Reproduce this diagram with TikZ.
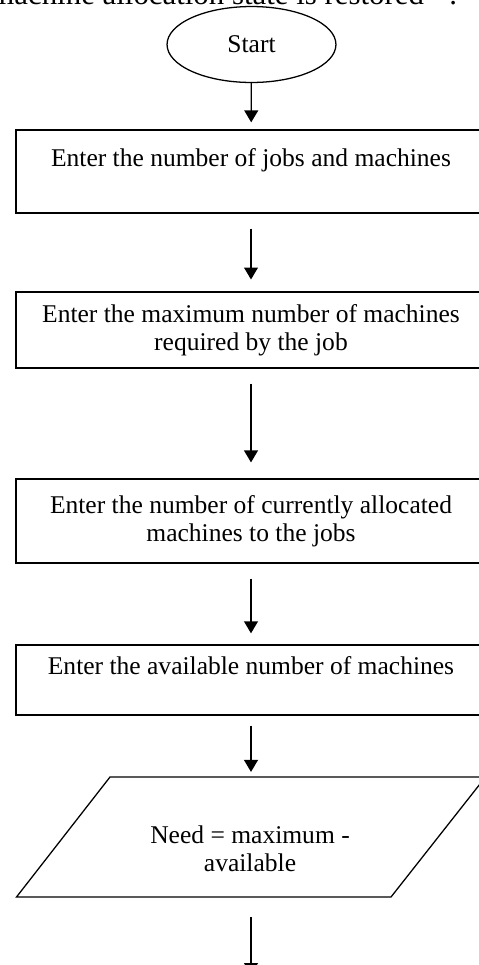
\documentclass[tikz,border=0pt]{standalone}
\usepackage{fontspec}
\setmainfont{Liberation Serif}
\usepackage{xcolor}
\usepackage{tikz}
\usetikzlibrary{arrows.meta,shapes.geometric}
\definecolor{paper}{HTML}{FFFFFF}
\definecolor{ink}{HTML}{000000}
\tikzset{
  line/.style={draw=ink, line width=0.6pt},
  term/.style={line, ellipse, inner sep=0pt, minimum width=79.4pt, minimum height=35.7pt},
  box/.style={line, rectangle, align=center, inner sep=0pt, minimum width=220.9pt},
  txt/.style={text=ink, align=center, inner sep=0pt},
  arr/.style={line, -{Triangle[width=6.5pt, length=5.6pt]}},
  prev/.style={text=ink, inner sep=0pt, font=\fontsize{14.5}{17}\selectfont},
}

\begin{document}
\begin{tikzpicture}[x=0.47pt, y=-0.47pt, font=\fontsize{12}{13.3}\selectfont]
  \path[fill=paper, use as bounding box] (0,0) rectangle (479,965);
  % tail of the text line above the chart
  \node[prev, anchor=base west] (prevline) at (-10,4) {machine allocation state is restored\hspace{12pt}.};
  \node[term] (start) at (251.5,44.5) {Start};
  \node[box, minimum height=39pt] (enter) at (251,171.5) {Enter the number of jobs and machines\\ \mbox{}};
  \node[box, minimum height=35.7pt] (maxreq) at (251,330) {Enter the maximum number of machines\\required by the job};
  \node[box, minimum height=39.5pt] (alloc) at (251,521) {Enter the number of currently allocated\\machines to the jobs};
  \node[box, minimum height=32.9pt] (avail) at (251,680) {Enter the available number of machines\\ \mbox{}};
  % input/output parallelogram
  \draw[line] (16.5,897) -- (110,777) -- (485.5,777) -- (391,897) -- cycle;
  \coordinate (needtop) at (251,777);
  \coordinate (needbot) at (251,897);
  \node[txt] (need) at (250,849) {Need = maximum -\\available};
  \coordinate (next) at (251,975);
  \foreach \a/\b/\s/\e in {start/enter/0/3.3, enter/maxreq/7/5.6, maxreq/alloc/7/7.5, alloc/avail/7/5.2, avail/needtop/4.7/2.4, needbot/next/9.4/0}
    {\draw[arr, shorten <=\s pt, shorten >=\e pt] (\a) -- (\b);}
\end{tikzpicture}
\end{document}
